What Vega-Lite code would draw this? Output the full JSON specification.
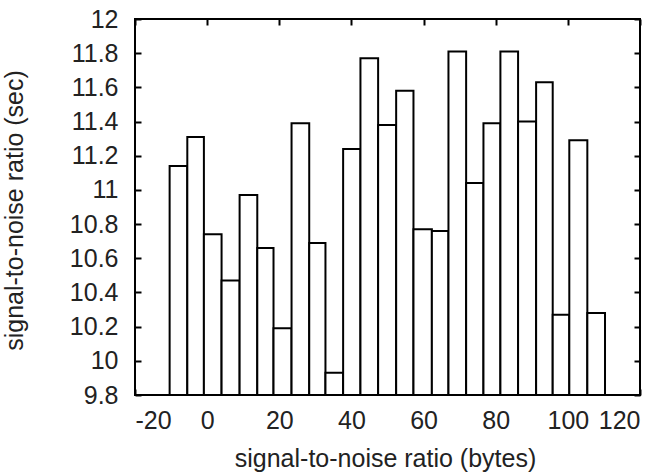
{
  "$schema": "https://vega.github.io/schema/vega-lite/v6.json",
  "width": 505,
  "height": 376,
  "autosize": "none",
  "padding": {"left": 135, "top": 19, "right": 25, "bottom": 80},
  "background": "white",
  "config": {
    "view": {"stroke": "black", "strokeWidth": 2},
    "axis": {
      "grid": false,
      "domain": false,
      "tickColor": "black",
      "tickWidth": 2,
      "tickSize": -6,
      "labelFont": "Liberation Sans",
      "labelFontSize": 25,
      "labelColor": "#222222",
      "titleFont": "Liberation Sans",
      "titleFontSize": 25,
      "titleFontWeight": "normal",
      "titleColor": "#222222"
    }
  },
  "data": {
    "values": [
      {"xStart": -10.4, "xEnd": -5.5, "value": 11.14},
      {"xStart": -5.5, "xEnd": -0.9, "value": 11.31},
      {"xStart": -0.9, "xEnd": 4.0, "value": 10.74},
      {"xStart": 4.0, "xEnd": 9.0, "value": 10.47},
      {"xStart": 9.0, "xEnd": 13.9, "value": 10.97},
      {"xStart": 13.9, "xEnd": 18.4, "value": 10.66},
      {"xStart": 18.4, "xEnd": 23.4, "value": 10.19},
      {"xStart": 23.4, "xEnd": 28.3, "value": 11.39},
      {"xStart": 28.3, "xEnd": 32.8, "value": 10.69},
      {"xStart": 32.8, "xEnd": 37.7, "value": 9.93},
      {"xStart": 37.7, "xEnd": 42.5, "value": 11.24},
      {"xStart": 42.5, "xEnd": 47.4, "value": 11.77},
      {"xStart": 47.4, "xEnd": 52.4, "value": 11.38},
      {"xStart": 52.4, "xEnd": 57.2, "value": 11.58},
      {"xStart": 57.2, "xEnd": 62.3, "value": 10.77},
      {"xStart": 62.3, "xEnd": 66.9, "value": 10.76},
      {"xStart": 66.9, "xEnd": 71.8, "value": 11.81},
      {"xStart": 71.8, "xEnd": 76.6, "value": 11.04},
      {"xStart": 76.6, "xEnd": 81.3, "value": 11.39},
      {"xStart": 81.3, "xEnd": 86.2, "value": 11.81},
      {"xStart": 86.2, "xEnd": 91.2, "value": 11.40},
      {"xStart": 91.2, "xEnd": 95.8, "value": 11.63},
      {"xStart": 95.8, "xEnd": 100.4, "value": 10.27},
      {"xStart": 100.4, "xEnd": 105.4, "value": 11.29},
      {"xStart": 105.4, "xEnd": 110.3, "value": 10.28}
    ]
  },
  "layer": [
    {
      "mark": {"type": "rect", "fill": "white", "stroke": "black", "strokeWidth": 2},
      "encoding": {
        "x": {
          "field": "xStart",
          "type": "quantitative",
          "scale": {"domain": [-20, 120], "nice": false, "zero": false},
          "axis": {
            "orient": "bottom",
            "values": [-20, 0, 20, 40, 60, 80, 100, 120],
            "labelExpr": "toString(datum.value)",
            "labelPadding": 19,
            "title": "signal-to-noise ratio (bytes)",
            "titleX": 250,
            "titleY": 71,
            "titleBaseline": "alphabetic",
            "titleAlign": "center"
          }
        },
        "x2": {"field": "xEnd"},
        "y": {
          "field": "value",
          "type": "quantitative",
          "scale": {"domain": [9.8, 12], "nice": false, "zero": false},
          "axis": {
            "orient": "left",
            "values": [9.8, 10, 10.2, 10.4, 10.6, 10.8, 11, 11.2, 11.4, 11.6, 11.8, 12],
            "labelExpr": "toString(datum.value)",
            "labelPadding": 23,
            "title": "signal-to-noise ratio (sec)",
            "titleAngle": -90,
            "titleX": -113,
            "titleY": 191,
            "titleBaseline": "alphabetic",
            "titleAlign": "center"
          }
        },
        "y2": {"datum": 9.8}
      }
    },
    {
      "mark": {"type": "rect", "opacity": 0},
      "encoding": {
        "x": {
          "field": "xStart",
          "type": "quantitative",
          "axis": {
            "orient": "top",
            "values": [-20, 0, 20, 40, 60, 80, 100, 120],
            "labels": false,
            "title": null
          }
        },
        "x2": {"field": "xEnd"},
        "y": {
          "field": "value",
          "type": "quantitative",
          "axis": {
            "orient": "right",
            "values": [9.8, 10, 10.2, 10.4, 10.6, 10.8, 11, 11.2, 11.4, 11.6, 11.8, 12],
            "labels": false,
            "title": null
          }
        },
        "y2": {"datum": 9.8}
      }
    }
  ],
  "resolve": {"axis": {"x": "independent", "y": "independent"}}
}
